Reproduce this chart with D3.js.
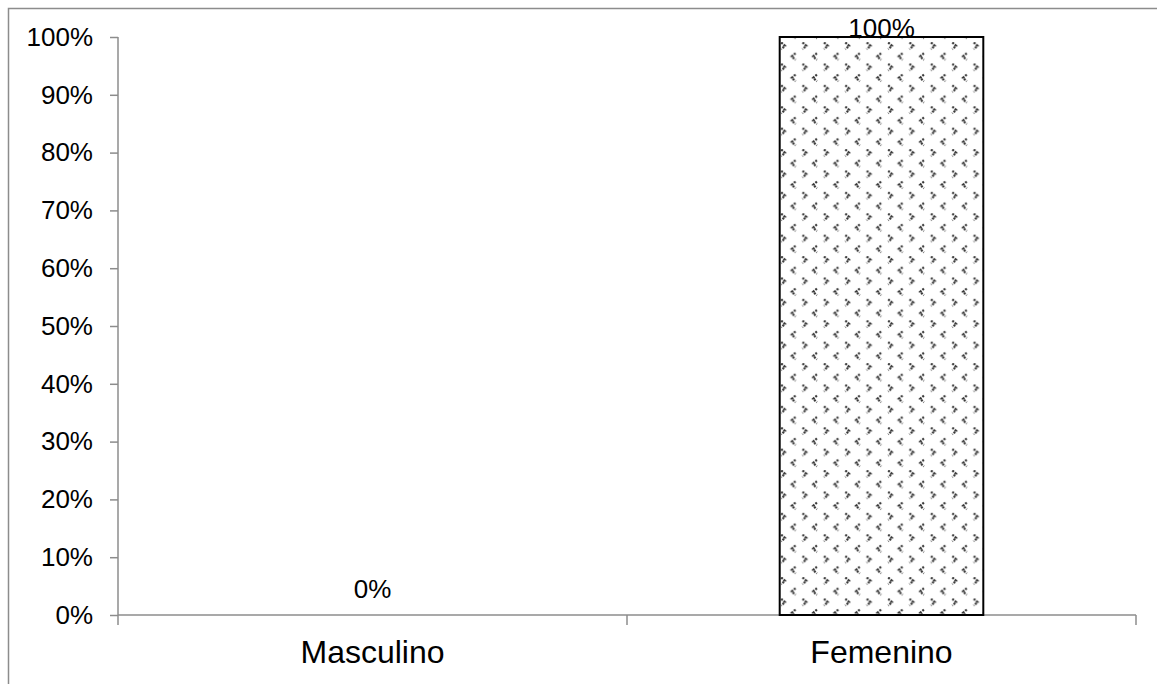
<!DOCTYPE html>
<html>
<head>
<meta charset="utf-8">
<script src="https://cdnjs.cloudflare.com/ajax/libs/d3/7.8.5/d3.min.js"></script>
<style>
  body { margin: 0; background: #fff; }
  text { font-family: "Liberation Sans", Arial, sans-serif; fill: #000; }
</style>
</head>
<body>
<script>
const width = 1157;
const height = 684;
const margin = { top: 37, right: 21, bottom: 69, left: 118 };

// data
var categories = ["Masculino", "Femenino"];
var values = [0, 1];
var yTicks = [0, 0.1, 0.2, 0.3, 0.4, 0.5, 0.6, 0.7, 0.8, 0.9, 1];

var svg, x_scale, y_scale;

svg = d3.select("body")
    .append("svg")
    .attr("width", width)
    .attr("height", height);

// chart border (runs off the right and bottom of the picture)
svg.append("rect")
    .attr("x", 8.5)
    .attr("y", 8.5)
    .attr("width", width + 20)
    .attr("height", height + 20)
    .attr("fill", "none")
    .attr("stroke", "#8c8c8c")
    .attr("stroke-width", 1.5);

// chevron pattern for the bars
var tile = 21.4;
var defs = svg.append("defs");
var pat = defs.append("pattern")
    .attr("id", "chev")
    .attr("patternUnits", "userSpaceOnUse")
    .attr("x", 780)
    .attr("y", 42)
    .attr("width", tile)
    .attr("height", tile);
pat.append("rect").attr("width", tile).attr("height", tile).attr("fill", "#fff");
// ">" glyph
pat.append("path")
    .attr("d", "M1.2,0.5 L5,3.8 L1.2,7.1")
    .attr("fill", "none").attr("stroke", "#333").attr("stroke-width", 2.2)
    .attr("stroke-dasharray", "2,1.2");
// "<" glyph, half a tile over and down
pat.append("path")
    .attr("d", "M15.5,11.2 L11.7,14.5 L15.5,17.8")
    .attr("fill", "none").attr("stroke", "#333").attr("stroke-width", 2.2)
    .attr("stroke-dasharray", "2,1.2");

x_scale = d3.scaleBand()
    .domain(categories)
    .range([margin.left, width - margin.right]);

y_scale = d3.scaleLinear()
    .domain([0, 1])
    .range([height - margin.bottom, margin.top]);

// y axis
var y_axis = d3.axisLeft(y_scale)
    .tickValues(yTicks)
    .tickSize(8)
    .tickPadding(17)
    .tickFormat(d3.format(".0%"));
var gy = svg.append("g")
    .attr("transform", "translate(" + margin.left + ",0)")
    .call(y_axis);
gy.selectAll("line, path").attr("stroke", "#8c8c8c").attr("stroke-width", 1.5);
gy.select(".domain").attr("d", "M0," + y_scale(1) + "V" + y_scale(0));
gy.selectAll("text")
    .attr("font-size", 26)
    .attr("font-family", "Liberation Sans, Arial, sans-serif")
    .attr("fill", "#000");

// x axis: ticks at band boundaries
var bounds = [x_scale.range()[0]].concat(categories.map(function (c) { return x_scale(c) + x_scale.bandwidth(); }));
var gx = svg.append("g");
gx.append("line")
    .attr("x1", x_scale.range()[0]).attr("x2", x_scale.range()[1])
    .attr("y1", y_scale(0)).attr("y2", y_scale(0))
    .attr("stroke", "#8c8c8c").attr("stroke-width", 1.5);
gx.selectAll(".xt")
    .data(bounds)
    .enter()
    .append("line")
    .attr("x1", function (d) { return d; })
    .attr("x2", function (d) { return d; })
    .attr("y1", y_scale(0))
    .attr("y2", y_scale(0) + 10)
    .attr("stroke", "#8c8c8c").attr("stroke-width", 1.5);
gx.selectAll(".xl")
    .data(categories)
    .enter()
    .append("text")
    .attr("x", function (d) { return x_scale(d) + x_scale.bandwidth() / 2; })
    .attr("y", y_scale(0) + 48)
    .attr("text-anchor", "middle")
    .attr("font-size", 32)
    .text(function (d) { return d; });

// bars
var barW = x_scale.bandwidth() * 0.4;
svg.selectAll(".bar")
    .data(values)
    .enter()
    .append("rect")
    .attr("x", function (d, i) { return x_scale(categories[i]) + (x_scale.bandwidth() - barW) / 2; })
    .attr("y", function (d) { return y_scale(d); })
    .attr("width", barW)
    .attr("height", function (d) { return y_scale(0) - y_scale(d); })
    .attr("fill", "url(#chev)")
    .attr("stroke", function (d) { return d > 0 ? "#000" : "none"; })
    .attr("stroke-width", 2);

// data labels (kept inside the plot area)
svg.selectAll(".lbl")
    .data(values)
    .enter()
    .append("text")
    .attr("x", function (d, i) { return x_scale(categories[i]) + x_scale.bandwidth() / 2; })
    .attr("y", function (d) { return Math.max(y_scale(d) - 17, margin.top); })
    .attr("text-anchor", "middle")
    .attr("font-size", 26)
    .text(function (d) { return d3.format(".0%")(d); });
</script>
</body>
</html>
